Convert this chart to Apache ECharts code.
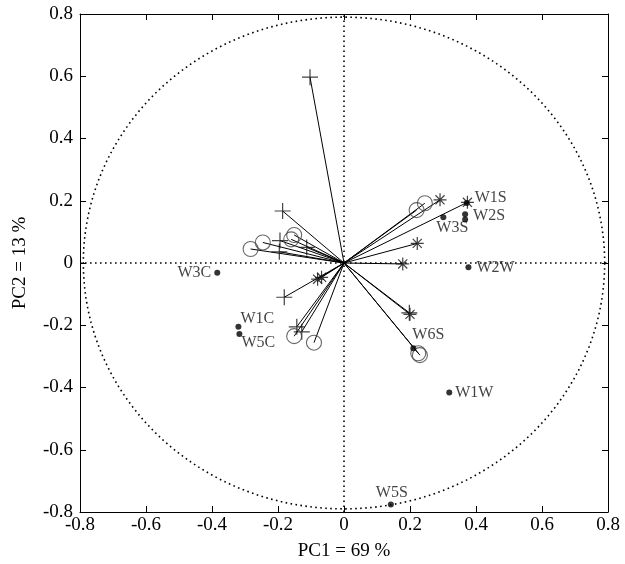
<!DOCTYPE html>
<html><head><meta charset="utf-8">
<script src="https://cdn.jsdelivr.net/npm/echarts@6/dist/echarts.min.js"></script>
<style>html,body{margin:0;padding:0;background:#fff}#c{width:625px;height:564px}</style>
</head><body><div id="c"></div>
<script>
// Axis ticks
const ticks = [-0.8,-0.6,-0.4,-0.2,0,0.2,0.4,0.6,0.8];
const xName = 'PC1 = 69 %';
const yName = 'PC2 = 13 %';
const circleRadius = 0.79;

// Loading vectors (drawn from origin), by marker type
const plusPts = [[-0.103,0.597],[-0.186,0.167],[-0.194,0.072],[-0.196,0.036],[-0.113,0.050],
                 [-0.181,-0.110],[-0.143,-0.205],[-0.128,-0.221],[0.198,-0.160]];
const starPts = [[0.374,0.195],[0.291,0.203],[0.222,0.063],[0.178,-0.003],[-0.068,-0.046],
                 [-0.080,-0.052],[0.200,-0.165]];
const ringPts = [[-0.283,0.045],[-0.246,0.066],[-0.151,0.090],[-0.160,0.076],[0.220,0.170],
                 [0.245,0.192],[-0.151,-0.235],[-0.091,-0.256],[0.230,-0.296],[0.225,-0.290]];

// Observations (scores)
const obsNames = ['W1S','W2S','','W3S','W2W','W6S','W1W','W5S','W3C','W1C','W5C'];
const obsX = [0.372,0.367,0.367,0.301,0.377,0.210,0.319,0.142,-0.384,-0.320,-0.317];
const obsY = [0.193,0.157,0.140,0.147,-0.014,-0.274,-0.416,-0.776,-0.031,-0.205,-0.228];

const labelPlace = {
  'W1S':{position:'right',offset:[2,-5]},
  'W2S':{position:'right',offset:[2,2]},
  'W3S':{position:'bottom',offset:[9,-3]},
  'W2W':{position:'right',offset:[2,0]},
  'W6S':{position:'top',offset:[15,1]},
  'W1W':{position:'right',offset:[0,0]},
  'W5S':{position:'top',offset:[1,2]},
  'W3C':{position:'left',offset:[0,0]},
  'W1C':{position:'right',offset:[-4,-8]},
  'W5C':{position:'right',offset:[-4,9]}
};

const font = 'Liberation Serif';
const circleData = [];
for (let i = 0; i <= 360; i += 2) {
  const a = i * Math.PI / 180;
  circleData.push([circleRadius*Math.cos(a), circleRadius*Math.sin(a)]);
}
const allVec = plusPts.concat(starPts, ringPts);
const vecLines = allVec.map(p => ({coords:[[0,0],p]}));
const obsData = obsNames.map((n,i)=>{
  const d = {name:n, value:[obsX[i],obsY[i]]};
  if (n && labelPlace[n]) d.label = Object.assign({show:true}, labelPlace[n]);
  return d;
});

const axisCommon = {
  type:'value', min:-0.8, max:0.8, interval:0.2,
  splitLine:{show:false},
  axisLine:{onZero:false, lineStyle:{color:'#000',width:1}},
  axisTick:{inside:true, length:6, lineStyle:{color:'#000'}}
};
const labelStyle = {color:'#000', fontFamily:font, fontSize:19,
  formatter: v => (Math.abs(v) < 1e-9 ? '0' : String(Math.round(v*10)/10))};

const chart = echarts.init(document.getElementById('c'));
chart.setOption({
  animation:false,
  backgroundColor:'#fff',
  grid:{left:80, right:17, top:14, bottom:52, containLabel:false, outerBoundsMode:'none'},
  xAxis:[
    Object.assign({}, axisCommon, {position:'bottom', name:xName, nameLocation:'middle', nameGap:30,
      nameTextStyle:{color:'#000', fontFamily:font, fontSize:19},
      axisLabel:Object.assign({margin:4}, labelStyle)}),
    Object.assign({}, axisCommon, {position:'top', axisLabel:{show:false}})
  ],
  yAxis:[
    Object.assign({}, axisCommon, {position:'left', name:yName, nameLocation:'middle', nameGap:50,
      nameTextStyle:{color:'#000', fontFamily:font, fontSize:19},
      axisLabel:Object.assign({margin:7}, labelStyle)}),
    Object.assign({}, axisCommon, {position:'right', axisLabel:{show:false}})
  ],
  series:[
    {type:'line', data:circleData, showSymbol:false, silent:true, z:1,
     lineStyle:{color:'#000', width:1.6, type:[1.6,3.4]},
     markLine:{silent:true, symbol:'none', label:{show:false},
       lineStyle:{color:'#000', width:1.6, type:[1.6,3.4]},
       data:[{xAxis:0},{yAxis:0}]}},
    {type:'lines', coordinateSystem:'cartesian2d', data:vecLines, z:3,
     lineStyle:{color:'#000', width:1, opacity:1}},
    {type:'scatter', data:plusPts, symbol:'path://M0,5L10,5M5,0L5,10', symbolSize:16, z:4,
     itemStyle:{color:'rgba(0,0,0,0)', borderColor:'#111', borderWidth:1.2}},
    {type:'scatter', data:starPts, symbol:'path://M0,5L10,5M5,0L5,10M1.5,1.5L8.5,8.5M8.5,1.5L1.5,8.5', symbolSize:13, z:4,
     itemStyle:{color:'rgba(0,0,0,0)', borderColor:'#111', borderWidth:1.2}},
    {type:'scatter', data:ringPts, symbol:'circle', symbolSize:15, z:4,
     itemStyle:{color:'rgba(0,0,0,0)', borderColor:'#444', borderWidth:1.1}},
    {type:'scatter', data:obsData, symbol:'circle', symbolSize:6, z:5,
     itemStyle:{color:'#000'},
     label:{show:false, formatter:'{b}', color:'#111', fontFamily:font, fontSize:16, distance:3}}
  ]
});
</script>
</body></html>
